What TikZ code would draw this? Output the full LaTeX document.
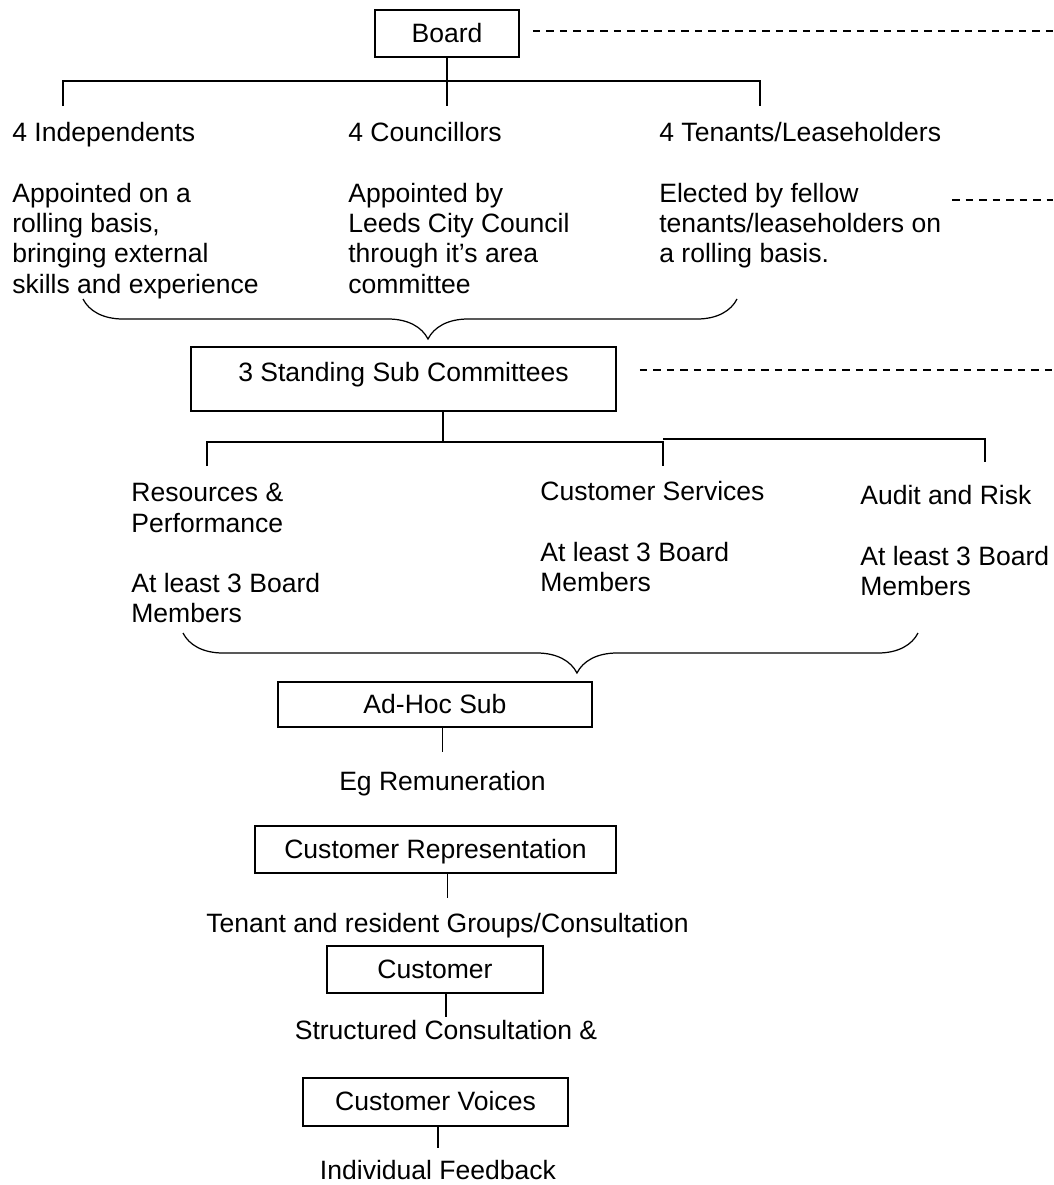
\documentclass[tikz,border=0pt]{standalone}
\usepackage{fontspec}
\setmainfont{Liberation Sans}
\usetikzlibrary{decorations.pathreplacing}

\begin{document}
\begin{tikzpicture}[
    x = 0.2mm, y = -0.2mm,
    font = \fontsize{15.1}{17.25}\selectfont,
    box/.style = {rectangle, draw, line width=0.9pt, inner sep=0pt, text height=11pt, text depth=0.8pt},
    txt/.style = {inner sep=0pt, align=left, anchor=north west},
    lbl/.style = {inner sep=0pt, anchor=base},
    link/.style = {line width=0.9pt},
    trail/.style = {line width=0.8pt, dash pattern=on 1.5mm off 1.2mm},
    curly/.style = {line width=0.7pt, decorate, decoration={brace, amplitude=8mm, aspect=#1}},
]
    \useasboundingbox (0,0) rectangle (1053,1185);
    \coordinate (rim) at (1053,0);
    % Les cadres, de haut en bas
    \node[box, minimum width=28.8mm, minimum height=9.4mm] (board) at (447,33.5) {Board};
    \node[box, minimum width=85mm, minimum height=12.8mm, text depth=8.1pt] (standing) at (403.5,379) {3 Standing Sub Committees};
    \node[box, minimum width=62.8mm, minimum height=9mm] (adhoc) at (435,704.5) {Ad-Hoc Sub};
    \node[box, minimum width=72.2mm, minimum height=9.4mm] (custrep) at (435.5,849.5) {Customer Representation};
    \node[box, minimum width=43.2mm, minimum height=9.4mm] (cust) at (435,969.5) {Customer};
    \node[box, minimum width=53mm, minimum height=9.6mm] (voices) at (435.5,1102) {Customer Voices};

    \begin{scope}[every node/.append style={txt}]
        % Les membres du board
        \node (indep) at (12,122) {4 Independents\\[6.06mm]
                Appointed on a\\ rolling basis,\\ bringing external\\ skills and experience};
        \node (counc) at (348,122) {4 Councillors\\[6.06mm]
                Appointed by\\ Leeds City Council\\ through it’s area\\ committee};
        \node (tenan) at (659,122) {4 Tenants/Leaseholders\\[6.06mm]
                Elected by fellow\\ tenants/leaseholders on\\ a rolling basis.};
        % Les sous-comités
        \node (resrc) at (131,483) {Resources \&\\ Performance\\[6.06mm]
                At least 3 Board\\ Members};
        \node (servc) at (540,481) {Customer Services\\[6.06mm]
                At least 3 Board\\ Members};
        \node (audit) at (860,485) {Audit and Risk\\[6.06mm]
                At least 3 Board\\ Members};
    \end{scope}

    \node[lbl] (eg) at (442.5,790.5) {Eg Remuneration};
    \node[lbl] (groups) at (447.5,932.5) {Tenant and resident Groups/Consultation};
    \node[lbl] (struct) at (446,1039.5) {Structured Consultation \&};
    \node[lbl] (feedb) at (438,1179) {Individual Feedback};

    % Arbre sous le board
    \coordinate (hub1) at (447,81);
    \coordinate (legI) at (63,106);
    \coordinate (legC) at (447,106);
    \coordinate (legT) at (760,106);
    \draw[link] (board.south) -- (legC);
    \draw[link] (legI) -- (legI |- hub1) -- (legT |- hub1) -- (legT);

    % Arbre sous les comités
    \coordinate (hub2) at (443,442);
    \coordinate (hub3) at (663,439);
    \coordinate (legR) at (207,466);
    \coordinate (legS) at (663,466);
    \coordinate (legA) at (985,462);
    \draw[link] (standing.south -| hub2) -- (hub2);
    \draw[link] (legR) -- (legR |- hub2) -- (legS |- hub2) -- (legS);
    \draw[link] (hub3) -- (hub3 -| legA) -- (legA);

    \draw[link, shorten >=3.8mm] (adhoc.south -| eg.north) -- (eg.north);
    \draw[link, shorten >=3mm] (custrep.south -| groups.north) -- (groups.north);
    \draw[link, shorten >=0.6mm] (cust.south -| struct.north) -- (struct.north);
    \draw[link, shorten >=2.2mm] (voices.south -| feedb.north) -- (feedb.north);

    % Pointillés vers la droite
    \draw[trail, shorten <=2.6mm] ([yshift=0.5mm]board.east) -- ([yshift=0.5mm]board.east -| rim);
    \coordinate (trT) at (952,200);
    \draw[trail] (trT) -- (trT -| rim);
    \draw[trail, shorten <=4.6mm] ([yshift=1.8mm]standing.east) -- ([yshift=1.8mm]standing.east -| rim);

    % Accolades
    \coordinate (brA) at (737,299);
    \coordinate (brB) at (83,299);
    \draw[curly=0.4725] (brA) -- (brB);
    \coordinate (brC) at (918,633);
    \coordinate (brD) at (183,633);
    \draw[curly=0.464] (brC) -- (brD);
\end{tikzpicture}
\end{document}
